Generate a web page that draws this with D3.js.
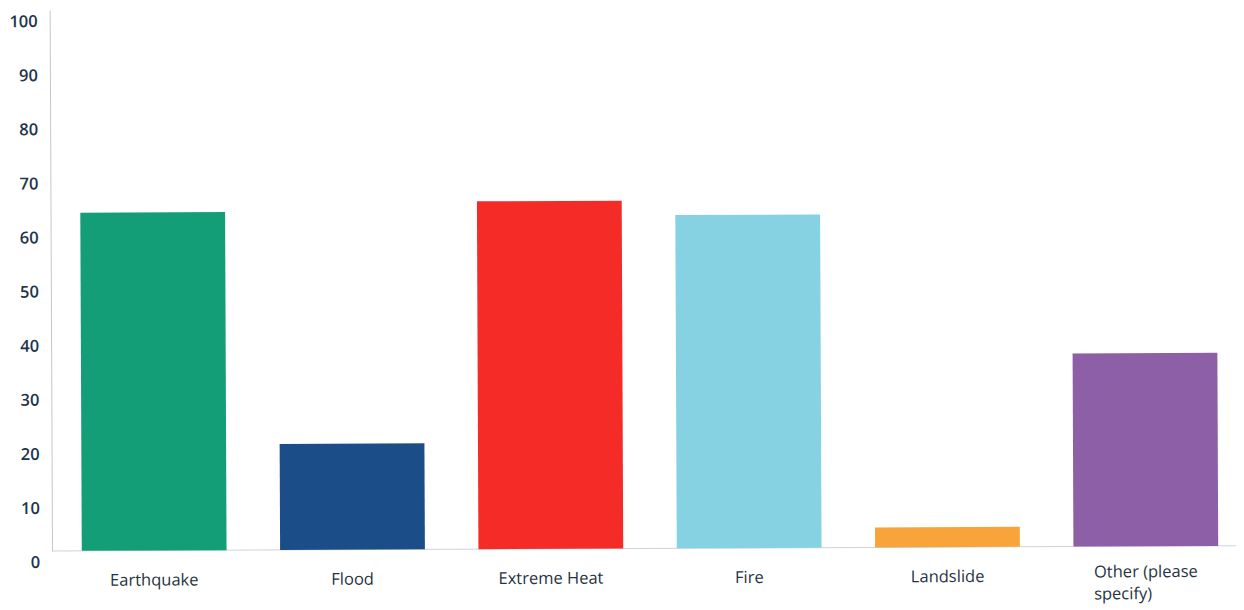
<!DOCTYPE html>
<html>
<head>
<meta charset="utf-8">
<script src="https://cdn.jsdelivr.net/npm/d3@7"></script>
<style>
  html, body { margin: 0; padding: 0; background: #fff; }
  svg { display: block; }
  .tick text { font-family: "Open Sans", "Noto Sans", sans-serif; }
</style>
</head>
<body>
<svg id="chart" width="1244" height="610"></svg>
<script>
// Responses by hazard type (percent)
const categories = ["Earthquake", "Flood", "Extreme Heat", "Fire", "Landslide", "Other (please specify)"];
const values = [62.5, 19.6, 64.3, 61.6, 3.7, 35.7];
const colors = ["#139e77", "#1b4e88", "#f42b27", "#86d2e2", "#f8a43b", "#8c5fa6"];
const yTicks = [0, 10, 20, 30, 40, 50, 60, 70, 80, 90, 100];
const categoryLines = [["Earthquake"], ["Flood"], ["Extreme Heat"], ["Fire"], ["Landslide"], ["Other (please", "specify)"]];

const svg = d3.select("#chart");
const x0 = 52, yBase = 551, yTop = 10;

// slight counter-clockwise tilt of the whole plot
const g = svg.append("g").attr("transform", `rotate(-0.25 ${x0} ${yBase})`);

const y = d3.scaleLinear().domain([0, 100]).range([yBase, yTop]);
const x = d3.scaleBand().domain(categories).range([55, 1245])
  .paddingInner(0.27).paddingOuter(0.135);

// y axis: vertical rule with labels only
const yAxis = d3.axisLeft(y).tickValues(yTicks).tickSizeInner(0).tickSizeOuter(0).tickPadding(12);
const ya = g.append("g").attr("transform", `translate(${x0},0)`).call(yAxis);
ya.select(".domain").attr("stroke", "#c4c7cc").attr("stroke-width", 1);
ya.selectAll(".tick text")
  .attr("dy", "1.0em")
  .attr("fill", "#22344a")
  .attr("font-size", 16.5)
  .attr("font-weight", 600);

// baseline
g.append("line")
  .attr("x1", x0).attr("x2", 1236)
  .attr("y1", y(0)).attr("y2", y(0))
  .attr("stroke", "#cfd2d6").attr("stroke-width", 1);

// bars
g.selectAll("rect.bar")
  .data(categories)
  .join("rect")
  .attr("class", "bar")
  .attr("x", d => x(d))
  .attr("width", x.bandwidth())
  .attr("y", (d, i) => y(values[i]))
  .attr("height", (d, i) => y(0) - y(values[i]))
  .attr("fill", (d, i) => colors[i]);

// category labels (wrapped lines share a left edge, block centred on bar)
const labelG = g.append("g")
  .attr("font-family", "'Open Sans', 'Noto Sans', sans-serif")
  .attr("font-size", 16.5)
  .attr("font-weight", 500)
  .attr("fill", "#26323f");

categories.forEach((c, i) => {
  const cx = x(c) + x.bandwidth() / 2;
  const lines = categoryLines[i];
  const t = labelG.append("text").attr("y", yBase + 35);
  lines.forEach((ln, j) => {
    t.append("tspan").attr("dy", j === 0 ? 0 : 22).text(ln);
  });
  const widths = [];
  t.selectAll("tspan").each(function () { widths.push(this.getComputedTextLength()); });
  const wMax = d3.max(widths);
  if (lines.length === 1) {
    t.attr("text-anchor", "middle").selectAll("tspan").attr("x", cx);
  } else {
    t.selectAll("tspan").attr("x", cx - wMax / 2);
    t.attr("y", yBase + 31);
  }
});
</script>
</body>
</html>
